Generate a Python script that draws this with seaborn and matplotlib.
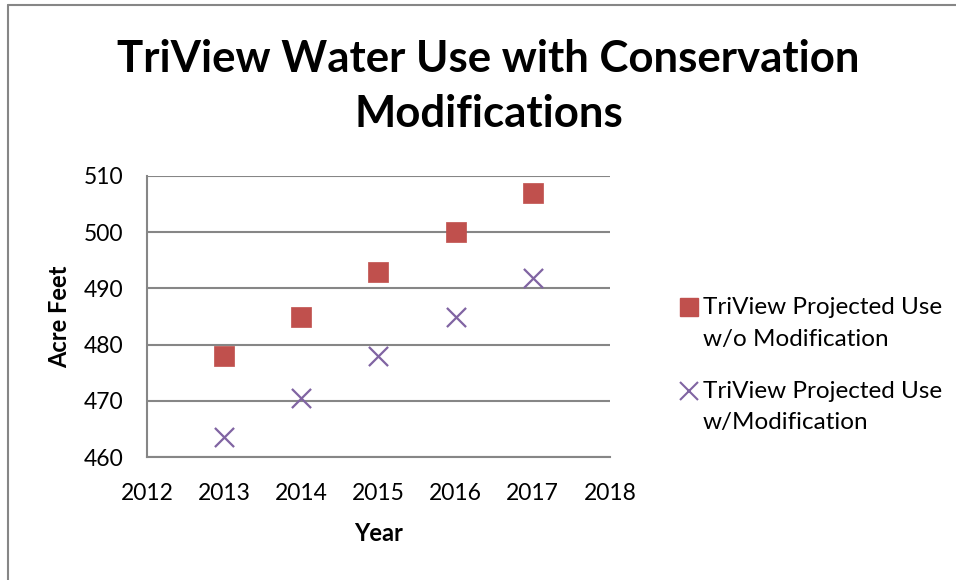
import matplotlib
matplotlib.use("Agg")
import matplotlib.pyplot as plt
import seaborn as sns
import pandas as pd
from matplotlib.lines import Line2D

years = [2013, 2014, 2015, 2016, 2017]
without_mod = [478, 485, 493, 500, 507]
with_mod = [463.6, 470.5, 478, 485, 491.8]
series_names = ["TriView Projected Use\nw/o Modification", "TriView Projected Use\nw/Modification"]
x_ticks = [2012, 2013, 2014, 2015, 2016, 2017, 2018]
y_ticks = [460, 470, 480, 490, 500, 510]

sns.set_theme(style="white")
plt.rcParams['font.family'] = ['Lato', 'DejaVu Sans']
plt.rcParams['text.color'] = 'black'
plt.rcParams['axes.labelcolor'] = 'black'

df1 = pd.DataFrame({"Year": years, "Acre Feet": without_mod})
df2 = pd.DataFrame({"Year": years, "Acre Feet": with_mod})

fig = plt.figure(figsize=(9.56, 5.8), dpi=100)
ax = fig.add_axes([0.1538, 0.212, 0.4842, 0.4846])

red = "#C0504D"
purple = "#8064A2"
sns.scatterplot(data=df1, x="Year", y="Acre Feet", marker="s", s=210, color=red,
                edgecolor=red, linewidth=0.5, ax=ax, zorder=3)
sns.scatterplot(data=df2, x="Year", y="Acre Feet", marker="x", s=190, color=purple,
                linewidth=1.6, ax=ax, zorder=3)

ax.set_xlim(2012, 2018)
ax.set_ylim(460, 510)
ax.set_xticks(x_ticks)
ax.set_xticklabels([str(v) for v in x_ticks])
ax.set_yticks(y_ticks)
ax.set_yticklabels([str(v) for v in y_ticks])
ax.tick_params(axis="x", labelsize=16.5, colors="black", length=0, pad=19)
ax.tick_params(axis="y", labelsize=16.5, colors="black", length=0, pad=17)
ax.yaxis.grid(True, color="#868686", linewidth=1.5)
ax.xaxis.grid(False)
ax.set_axisbelow(True)
for side in ["top", "right"]:
    ax.spines[side].set_visible(False)
for side in ["left", "bottom"]:
    ax.spines[side].set_color("#868686")
    ax.spines[side].set_linewidth(1.5)

ax.set_xlabel("Year", fontsize=17, fontweight="bold", labelpad=13, color="black")
ax.set_ylabel("Acre Feet", fontsize=17, fontweight="bold", labelpad=9, color="black")

fig.text(0.511, 0.851, "TriView Water Use with Conservation\nModifications", ha="center",
         va="center", fontsize=31.5, fontweight="bold", linespacing=1.45, color="black")

handles = [
    Line2D([0], [0], marker="s", color="none", markerfacecolor=red, markeredgecolor=red, markersize=12.5),
    Line2D([0], [0], marker="x", color="none", markeredgecolor=purple, markersize=12.5, markeredgewidth=1.5),
]
leg = fig.legend(handles, series_names, loc="center left", bbox_to_anchor=(0.697, 0.370),
                 frameon=False, fontsize=17.5, handlelength=0.9, handleheight=1.0,
                 handletextpad=0.1, labelspacing=1.3, borderpad=0)
for t in leg.get_texts():
    t.set_linespacing(1.6)
    t.set_color("black")
for col in leg._legend_handle_box.get_children():
    for row in col.get_children():
        row.align = "top"

# outer chart border (top and left visible)
fig.add_artist(Line2D([0.008, 0.008], [0.0, 0.992], color="#868686", linewidth=1.5, transform=fig.transFigure))
fig.add_artist(Line2D([0.008, 1.0], [0.992, 0.992], color="#868686", linewidth=1.5, transform=fig.transFigure))

fig.savefig("out.png", dpi=100, facecolor="white")
